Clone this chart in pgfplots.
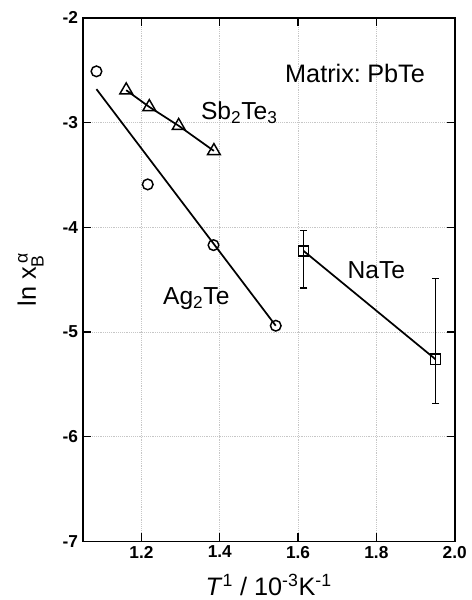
\documentclass[border=0pt]{standalone}
\usepackage{pgfplots}
\pgfplotsset{compat=1.18}
\usepackage{amsmath}
\usepackage{fontspec}
\setmainfont{Liberation Sans}
\begin{document}
\begin{tikzpicture}
\begin{axis}[
  scale only axis,
  width=279.75pt, height=393.75pt,
  xmin=1.05, xmax=2.0, ymin=-7, ymax=-2,
  xtick={1.2,1.4,1.6,1.8,2.0},
  ytick={-7,-6,-5,-4,-3,-2},
  xticklabels={1.2,1.4,1.6,1.8,2.0},
  yticklabels={-7,-6,-5,-4,-3,-2},
  tick align=inside,
  major tick length=6pt,
  tick style={black, line width=1pt},
  axis line style={line width=1.3pt},
  grid=major,
  grid style={densely dotted, gray!45, line width=0.5pt},
  ticklabel style={font=\bfseries\fontsize{13}{15}\selectfont},
  /pgf/number format/assume math mode=true,
  xlabel={\textit{T}$^{\text{1}}$ / 10$^{\text{-3}}$K$^{\text{-1}}$},
  ylabel={ln x$_{\text{B}}^{\,\text{α}}$},
  label style={font=\fontsize{19}{21}\selectfont},
  xlabel style={at={(axis description cs:0.5,-0.103)}, anchor=base},
  ylabel style={at={(axis description cs:-0.126,0.5)}, anchor=base},
]
% Ag2Te
\addplot[only marks, mark=o, mark size=4pt, line width=1.1pt] coordinates {
(1.085,-2.51) (1.216,-3.59) (1.384,-4.17) (1.543,-4.94)};
\addplot[no marks, line width=1.3pt] coordinates {(1.085,-2.68) (1.543,-4.94)};
% Sb2Te3
\addplot[mark=triangle, mark size=5.5pt, line width=1.3pt, mark options={line width=1.1pt}] coordinates {
(1.161,-2.69) (1.220,-2.85) (1.295,-3.03) (1.385,-3.27)};
% NaTe
\addplot[mark=square, mark size=3.8pt, line width=1.3pt, mark options={line width=1.1pt},
  error bars/.cd, y dir=both, y explicit,
  error bar style={line width=0.9pt}, error mark options={rotate=90, mark size=2.8pt, line width=0.9pt}]
 coordinates {
(1.614,-4.225) += (0,0.195) -= (0,0.355)
(1.951,-5.26) += (0,0.77) -= (0,0.42)};
\node[font=\fontsize{19}{21}\selectfont] at (axis cs:1.7455,-2.53) {Matrix:\hspace{0.25em}PbTe};
\node[font=\fontsize{18.5}{21}\selectfont] at (axis cs:1.45,-2.905) {Sb$_{\text{2}}$Te$_{\text{3}}$};
\node[font=\fontsize{18.5}{21}\selectfont] at (axis cs:1.34,-4.68) {Ag$_{\text{2}}$Te};
\node[font=\fontsize{18.5}{21}\selectfont] at (axis cs:1.80,-4.41) {NaTe};
\end{axis}
\useasboundingbox ([xshift=-62.25pt,yshift=-42.75pt]current axis.south west) rectangle ([xshift=10.5pt,yshift=13.5pt]current axis.north east);
\end{tikzpicture}
\end{document}
